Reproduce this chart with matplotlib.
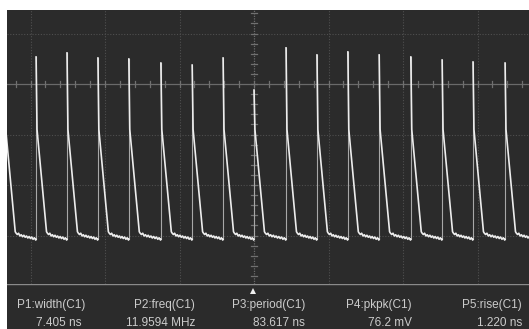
import matplotlib
matplotlib.use("Agg")
import matplotlib.pyplot as plt
import numpy as np

# Figure geometry (pixels)
W, H = 529, 329
SCREEN_L, SCREEN_R = 7, 529
SCREEN_T, SCREEN_B = 10, 284

# Scope scales: 200 ns/div (74.5 px), 20 mV/div (50.5 px)
NS_PER_PX = 200 / 74.5
MV_PER_PX = 20 / 50.5
X0_PX, Y0_PX = 254, 84      # centre graticule lines

BG = "#2b2b2b"

# Pulse rise instants (ns) and peak levels (mV)
pulse_t = [-669, -585, -502, -419, -336, -250, -166, -83, 0, 86, 169,
           252, 336, 421, 505, 588, 674]
pulse_peak = [11.0, 10.7, 12.3, 10.3, 9.9, 8.3, 7.5, 10.3, -2.4, 14.3, 11.5,
              12.7, 11.5, 10.7, 9.5, 8.7, 8.3]
baseline = -60.0
# baseline ripple after each pulse (mV offsets, hand read)
ripple = [1.0, 0.4, 0.9, -0.2, 0.3, -0.5, 0.1, -0.7, -0.2, -1.0,
          -0.4, -1.2, -0.6, -1.5, -0.9, -1.8]

# measurement panel
meas_labels = ["P1:width(C1)", "P2:freq(C1)", "P3:period(C1)",
               "P4:pkpk(C1)", "P5:rise(C1)"]
meas_values = ["7.405 ns", "11.9594 MHz", "83.617 ns", "76.2 mV", "1.220 ns"]
meas_right_px = [85, 195, 305, 412, 522]


def fx(px):
    return px / W


def fy(py):
    return 1 - py / H


fig = plt.figure(figsize=(W / 100, H / 100), dpi=100)
fig.patch.set_facecolor("white")

ax = fig.add_axes([fx(SCREEN_L), fy(SCREEN_B), fx(SCREEN_R - SCREEN_L),
                   (SCREEN_B - SCREEN_T) / H])
ax.set_facecolor(BG)
xmin = (SCREEN_L - X0_PX) * NS_PER_PX
xmax = (SCREEN_R - X0_PX) * NS_PER_PX
ymin = (Y0_PX - SCREEN_B) * MV_PER_PX
ymax = (Y0_PX - SCREEN_T) * MV_PER_PX
ax.set_xlim(xmin, xmax)
ax.set_ylim(ymin, ymax)
for s in ax.spines.values():
    s.set_visible(False)
ax.set_xticks([])
ax.set_yticks([])

# graticule
for gx in np.arange(-600, 801, 200):
    if gx != 0:
        ax.axvline(gx, color="#4f4f4f", lw=0.8, ls=(0, (1, 1.5)), zorder=1)
for gy in [20, -20, -40, -60]:
    ax.axhline(gy, color="#4f4f4f", lw=0.8, ls=(0, (1, 1.5)), zorder=1)
ax.axhline(0, color="#6a6a6a", lw=0.9, zorder=1)
ax.axvline(0, color="#6a6a6a", lw=0.9, ls=(0, (1, 1)), zorder=1)
for tx in np.arange(-640, 740, 40):
    ax.plot([tx, tx], [-1.3, 1.3], color="#707070", lw=0.9, zorder=1)
for ty in np.arange(-76, 30, 4):
    ax.plot([-8, 8], [ty, ty], color="#707070", lw=0.9, zorder=1)

# trace
for i, (t0, pk) in enumerate(zip(pulse_t, pulse_peak)):
    t_next = pulse_t[i + 1] if i + 1 < len(pulse_t) else t0 + 83.6
    # fast rising edge (dim)
    ax.plot([t0, t0], [baseline - 1.5, pk], color="#a8a8a8", lw=0.8, zorder=3)
    # falling edge + baseline (bright)
    xs = [t0, t0 + 2.5, t0 + 28]
    ys = [pk, -18, baseline + 1.5]
    span = (t_next - 1) - (t0 + 30)
    for k, r in enumerate(ripple):
        xs.append(t0 + 30 + span * k / (len(ripple) - 1))
        ys.append(baseline + r)
    xs.append(t_next)
    ys.append(baseline - 1.5)
    ax.plot(xs, ys, color="#ededed", lw=1.2, zorder=4)

# measurement panel
pan = fig.add_axes([fx(SCREEN_L), 0, fx(SCREEN_R - SCREEN_L), fy(SCREEN_B)])
pan.set_facecolor(BG)
pan.set_xlim(SCREEN_L, SCREEN_R)
pan.set_ylim(H, SCREEN_B)
pan.axis("off")
pan.add_patch(plt.Rectangle((SCREEN_L, SCREEN_B), SCREEN_R - SCREEN_L,
                            H - SCREEN_B, color=BG, zorder=0))
pan.axhline(SCREEN_B + 0.5, color="#8a8a8a", lw=1.0)
pan.plot([253], [291], marker="^", color="#f0f0f0", ms=5, mew=0)

fam = ["Liberation Sans Narrow", "Liberation Sans", "DejaVu Sans"]
for lab, val, rx in zip(meas_labels, meas_values, meas_right_px):
    pan.text(rx, 305, lab, ha="right", va="center", color="#cccccc",
             fontsize=8.5, family=fam)
    pan.text(rx - (3 if rx == 85 else 0), 323, val, ha="right", va="center",
             color="#cccccc", fontsize=8.5, family=fam)

fig.savefig("out.png", dpi=100, facecolor="white")
